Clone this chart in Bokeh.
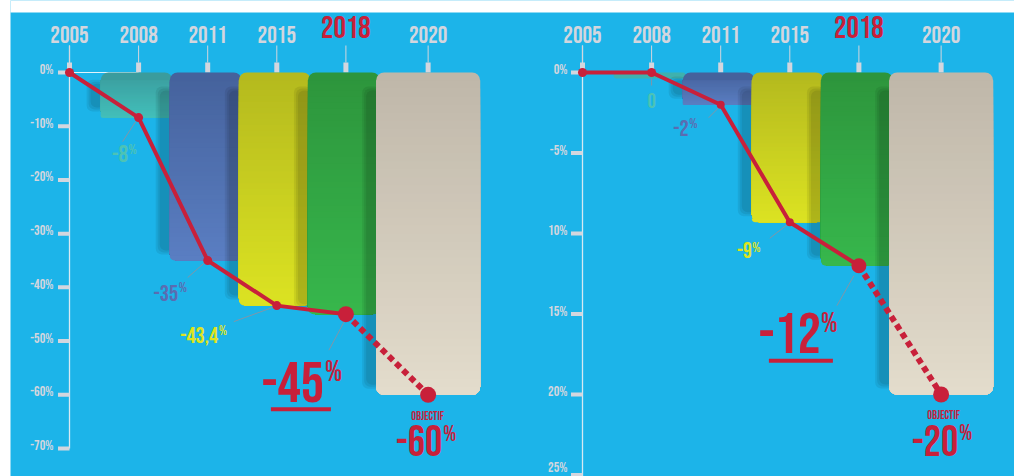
from bokeh.plotting import figure
from bokeh.layouts import row
from bokeh.models import Spacer, Range1d, ColumnDataSource
from bokeh.core.properties import value
from bokeh.embed import file_html
from bokeh.resources import INLINE

# ---------------- data ----------------
years = ["2005", "2008", "2011", "2015", "2018", "2020"]
highlight_year = "2018"

left_values = [0.0, -8.4, -35.0, -43.4, -45.0, -60.0]
left_value_labels = ["", "-8", "-35", "-43,4", "-45", "-60"]
left_ticks = [0, -10, -20, -30, -40, -50, -60, -70]
left_tick_labels = ["0%", "-10%", "-20%", "-30%", "-40%", "-50%", "-60%", "-70%"]

right_values = [0.0, 0.0, -2.0, -9.3, -12.0, -20.0]
right_value_labels = ["", "0", "-2", "-9", "-12", "-20"]
right_ticks = [0, -5, -10, -15, -20, -25]
right_tick_labels = ["0%", "-5%", "10%", "15%", "20%", "25%"]

objective_label = "OBJECTIF"
pct_sign = "%"

# ---------------- style / layout ----------------
FONT = value("Bebas Neue")
BG = "#1cb4e9"
RED = "#c8203a"
TICK_C = "#d3d6de"
LEADER_C = "#8196a8"
W, H = 1004, 476
WHITE_TOP = 12     # white strip above the blue area
TOP0 = 72          # px from figure top to the 0 line
PX_X = 69.1        # px per year slot
LEFT_AXIS_PX, RIGHT_AXIS_PX = 59, 572
PY_LEFT, PY_RIGHT = 376 / 70.0, 16.1
slot = [0, 1, 2, 3, 4, 5.19]
bar_top_colors = [None, "#3a9c9d", "#45629c", "#b4b91e", "#2d953c", "#bfb7a9"]
bar_bottom_colors = [None, "#43bfba", "#5a7ec2", "#dce322", "#37b74c", "#e3dccc"]
bar_l_px = [0, -38, -38, -38, -38, -52]
bar_r_px = [0, 34, 34, 34, 34, 52]
label_colors = [None, "#4cc3b5", "#5b6cb1", "#dfe420", RED, RED]
RADIUS = 8
MIN_BAR_PX = 6

left_specs = {
    1: dict(dx=-10.5, dy=36, pdx=-10, pdy=32, fs=24, pfs=14),
    2: dict(dx=-29.5, dy=32, pdx=-29, pdy=27, fs=23, pfs=14),
    3: dict(dx=-58.5, dy=29, pdx=-58, pdy=25, fs=23, pfs=14),
    4: dict(dx=-22, dy=68, pdx=-21, pdy=58, fs=58, pfs=29),
    5: dict(dx=14, dy=46, pdx=15, pdy=40, fs=43, pfs=22),
}
right_specs = {
    1: dict(dx=0, dy=28, pdx=None, pdy=0, fs=21, pfs=12, align="center"),
    2: dict(dx=-32, dy=23, pdx=-31.5, pdy=19, fs=23, pfs=14),
    3: dict(dx=-38, dy=28, pdx=-37.5, pdy=25, fs=22, pfs=14),
    4: dict(dx=-38, dy=67, pdx=-38, pdy=58, fs=58, pfs=28),
    5: dict(dx=17, dy=46, pdx=18, pdy=39, fs=43, pfs=22),
}
left_leaders = {1: (-16, 24, -3, 4), 2: (-20, 17, -4, 3), 3: (-43, 16, -2, 1), 4: (-17, 36, -2, 8)}
right_leaders = {1: (0, 6, 0, 13), 2: (-12, 13, -2, 3), 3: (-20, 16, -2, 2), 4: (-22, 40, -5, 10)}
left_dots = [9, 9, 9, 9, 16, 16]
right_dots = [9, 9, 8, 8, 15, 16]


def hex_to_rgb(h):
    h = h.lstrip("#")
    return tuple(int(h[i:i + 2], 16) for i in (0, 2, 4))


def mix(c1, c2, t):
    a, b = hex_to_rgb(c1), hex_to_rgb(c2)
    return "#%02x%02x%02x" % tuple(round(a[i] + (b[i] - a[i]) * t) for i in range(3))


def x_range_for(axis_px):
    return Range1d(-axis_px / PX_X, (W - axis_px) / PX_X)


def y_range_for(py):
    return Range1d(-(H - TOP0) / py, TOP0 / py)


p = figure(width=W, height=H, x_range=x_range_for(LEFT_AXIS_PX), y_range=y_range_for(PY_LEFT),
           output_backend="svg", toolbar_location=None, min_border=0,
           x_axis_type=None, y_axis_type=None)
p.extra_x_ranges = {"r": x_range_for(RIGHT_AXIS_PX)}
p.extra_y_ranges = {"r": y_range_for(PY_RIGHT)}
p.outline_line_color = None
p.background_fill_color = BG
p.border_fill_color = BG

# white strip above the coloured area
yr = p.y_range
p.quad(left=[p.x_range.start - 1], right=[p.x_range.end + 1], top=[yr.end + 5 / PY_LEFT],
       bottom=[yr.end - WHITE_TOP / PY_LEFT], fill_color="white", line_color=None)


def panel(rn, values, vlabels, ticks, tlabels, py, axis_end, specs, leaders,
          underline, obj, dots, tick_x_off):
    kw = dict(x_range_name=rn, y_range_name=rn)

    def ux(px):
        return px / PX_X

    def uy(px):  # screen px downward -> data units
        return -px / py

    n = len(years)
    # zero line and axis line
    p.segment(x0=[0], y0=[0], x1=[slot[1]], y1=[0], line_color="#e3f2fa", line_width=1, **kw)
    p.segment(x0=[0], y0=[uy(-27)], x1=[0], y1=[axis_end], line_color="#d6e9f3",
              line_width=1.3, **kw)
    # y ticks
    p.rect(x=[ux(-5.75)] * len(ticks), y=ticks, width=11.5, height=4,
           width_units="screen", height_units="screen", fill_color=TICK_C, line_color=None, **kw)
    for t, lab in zip(ticks, tlabels):
        tpx = TOP0 - t * py
        yo = -3 if tpx + 5 < H - 8 else (H - 9) - tpx
        p.text(x=[0], y=[t], text=[lab], x_offset=tick_x_off, y_offset=yo,
               text_align="right", text_baseline="middle", text_font=FONT,
               text_font_size="14px", text_color=TICK_C, **kw)
    # year ticks
    p.segment(x0=slot, y0=[uy(-10)] * n, x1=slot, y1=[uy(-27)] * n, line_color=TICK_C,
              line_width=1, **kw)
    p.rect(x=slot, y=[uy(-5)] * n, width=5, height=10, width_units="screen",
           height_units="screen", fill_color=TICK_C, line_color=None, **kw)
    norm = [i for i, y in enumerate(years) if y != highlight_year]
    hi = [i for i, y in enumerate(years) if y == highlight_year]
    p.text(x=[slot[i] for i in norm], y=[0] * len(norm), text=[years[i] for i in norm],
           y_offset=-38.5, text_align="center", text_baseline="middle", text_font=FONT,
           text_font_size="24px", text_color="#d3d6de", **kw)
    p.text(x=[slot[i] for i in hi], y=[0] * len(hi), text=[years[i] for i in hi],
           y_offset=-45.5, text_align="center", text_baseline="middle", text_font=FONT,
           text_font_size="31px", text_color=RED, **kw)

    # bars: each casts a soft shadow to its left (over the previous bar), then is drawn
    N = 40
    for i in range(1, n):
        L = slot[i] + ux(bar_l_px[i])
        R = slot[i] + ux(bar_r_px[i])
        bottom = min(values[i], uy(MIN_BAR_PX))
        hpx = -bottom * py
        rad = int(min(RADIUS, hpx // 2))
        if hpx > 25:
            st = min(18, hpx * 0.25)
            for s in (0, 2, 4):
                p.quad(left=[L + ux(-10 - s)], right=[L + ux(4)], top=[uy(st - s)],
                       bottom=[bottom + uy(-10 + s)], fill_color="black", fill_alpha=0.07,
                       line_color=None, border_radius=6, **kw)
        if hpx > 2 * RADIUS + 4:
            p.quad(left=[L], right=[R], top=[0], bottom=[bottom],
                   fill_color=bar_top_colors[i], line_color=None, border_radius=rad, **kw)
            tops, cols = [], []
            for k in range(1, N):
                tpx = max(RADIUS, k / N * hpx)
                tops.append(uy(tpx))
                cols.append(mix(bar_top_colors[i], bar_bottom_colors[i], (k + 0.5) / N))
            src = ColumnDataSource(dict(left=[L] * len(tops), right=[R] * len(tops),
                                        top=tops, bottom=[bottom] * len(tops), c=cols))
            p.quad(left="left", right="right", top="top", bottom="bottom", fill_color="c",
                   line_color=None, source=src,
                   border_radius=dict(top_left=0, top_right=0, bottom_right=RADIUS,
                                      bottom_left=RADIUS), **kw)
        else:
            p.quad(left=[L], right=[R], top=[0], bottom=[bottom],
                   fill_color=mix(bar_top_colors[i], bar_bottom_colors[i], 0.6),
                   line_color=None, border_radius=rad, **kw)
    # leader lines
    for i, (sx, sy, ex, ey) in leaders.items():
        p.segment(x0=[slot[i] + ux(sx)], y0=[values[i] + uy(sy)],
                  x1=[slot[i] + ux(ex)], y1=[values[i] + uy(ey)],
                  line_color=LEADER_C, line_width=1, **kw)
    # red line
    p.line(slot[:5], values[:5], line_color=RED, line_width=4, **kw)
    p.line(slot[4:], values[4:], line_color=RED, line_width=6, line_dash="6 4", **kw)
    p.scatter(slot, values, size=dots, fill_color=RED, line_color=None, **kw)

    # value labels
    for i, sp in specs.items():
        align = sp.get("align", "right")
        p.text(x=[slot[i]], y=[values[i]], text=[vlabels[i]], x_offset=sp["dx"],
               y_offset=sp["dy"], text_align=align, text_baseline="middle",
               text_font=FONT, text_font_size="%dpx" % sp["fs"],
               text_color=label_colors[i], **kw)
        if sp["pdx"] is not None:
            p.text(x=[slot[i]], y=[values[i]], text=[pct_sign], x_offset=sp["pdx"],
                   y_offset=sp["pdy"], text_align="left", text_baseline="middle",
                   text_font=FONT, text_font_size="%dpx" % sp["pfs"],
                   text_color=label_colors[i], **kw)
    # underline of the current value
    ui, ux0, ux1, udy = underline
    p.segment(x0=[slot[ui] + ux(ux0)], y0=[values[ui] + uy(udy)],
              x1=[slot[ui] + ux(ux1)], y1=[values[ui] + uy(udy)],
              line_color=RED, line_width=4, **kw)
    # objective caption
    oi, odx, ody = obj
    p.text(x=[slot[oi]], y=[values[oi]], text=[objective_label], x_offset=odx, y_offset=ody,
           text_align="center", text_baseline="middle", text_font=FONT,
           text_font_size="12px", text_color=RED, **kw)


panel("default", left_values, left_value_labels, left_ticks, left_tick_labels, PY_LEFT,
      -70, left_specs, left_leaders, (4, -75, -15, 95), (5, -0.5, 22), left_dots, -16)
panel("r", right_values, right_value_labels, right_ticks, right_tick_labels, PY_RIGHT,
      -(H - TOP0) / PY_RIGHT - 1, right_specs, right_leaders, (4, -90, -26, 95), (5, 2.5, 21),
      right_dots, -15)

layout = row(Spacer(width=10), p)
open("out.html", "w").write(file_html(layout, INLINE))
